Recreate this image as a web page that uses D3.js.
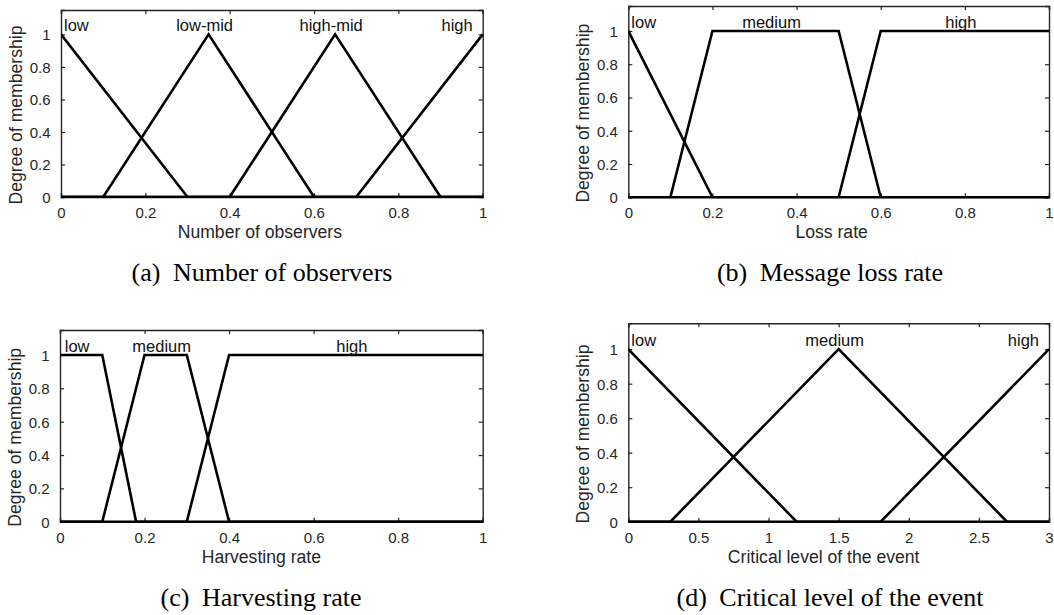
<!DOCTYPE html>
<html><head><meta charset="utf-8">
<script src="https://cdn.jsdelivr.net/npm/d3@7"></script>
<style>body{margin:0;background:#fff}</style></head>
<body><svg id="c" width="1054" height="615"></svg>
<script>
// ---- Panel (a): Number of observers ----
const aNames = ["low", "low-mid", "high-mid", "high"];
const aTypes = ["trimf", "trimf", "trimf", "trimf"];
const aParams = [[-0.3, 0, 0.3], [0.1, 0.35, 0.6], [0.4, 0.65, 0.9], [0.7, 1, 1.3]];
const aXTicks = [0, 0.2, 0.4, 0.6, 0.8, 1];
const aXLabel = "Number of observers";
const aCaption = ["(a)", "Number of observers"];

// ---- Panel (b): Message loss rate ----
const bNames = ["low", "medium", "high"];
const bTypes = ["trimf", "trapmf", "trapmf"];
const bParams = [[-0.2, 0, 0.2], [0.1, 0.2, 0.5, 0.6], [0.5, 0.6, 1, 1.4]];
const bXTicks = [0, 0.2, 0.4, 0.6, 0.8, 1];
const bXLabel = "Loss rate";
const bCaption = ["(b)", "Message loss rate"];

// ---- Panel (c): Harvesting rate ----
const cNames = ["low", "medium", "high"];
const cTypes = ["trapmf", "trapmf", "trapmf"];
const cParams = [[-0.4, 0, 0.1, 0.18], [0.1, 0.2, 0.3, 0.4], [0.3, 0.4, 1, 1.4]];
const cXTicks = [0, 0.2, 0.4, 0.6, 0.8, 1];
const cXLabel = "Harvesting rate";
const cCaption = ["(c)", "Harvesting rate"];

// ---- Panel (d): Critical level of the event ----
const dNames = ["low", "medium", "high"];
const dTypes = ["trimf", "trimf", "trimf"];
const dParams = [[-1.2, 0, 1.2], [0.3, 1.5, 2.7], [1.8, 3, 4.2]];
const dXTicks = [0, 0.5, 1, 1.5, 2, 2.5, 3];
const dXLabel = "Critical level of the event";
const dCaption = ["(d)", "Critical level of the event"];

const yTicks = [0, 0.2, 0.4, 0.6, 0.8, 1];
const yLabel = "Degree of membership";

const svg = d3.select("#c");
const SANS = "Liberation Sans, Arial, Helvetica, sans-serif";
const SERIF = "Liberation Serif, Times New Roman, serif";
const AX = "#262626";

function mu(type, p, x) {
  if (type === "trimf") {
    const [a, b, c] = p;
    const l = b === a ? (x >= a ? 1 : 0) : (x - a) / (b - a);
    const r = c === b ? (x <= c ? 1 : 0) : (c - x) / (c - b);
    return Math.max(Math.min(l, r), 0);
  } else {
    const [a, b, c, d] = p;
    const l = b === a ? (x >= a ? 1 : 0) : (x - a) / (b - a);
    const r = d === c ? (x <= d ? 1 : 0) : (d - x) / (d - c);
    return Math.max(Math.min(l, 1, r), 0);
  }
}
function peakCenter(type, p) {
  return type === "trimf" ? p[1] : (p[1] + p[2]) / 2;
}

function panel(cfg) {
  const {box, xDomain, names, types, params, xTicks, xLabel, xLabelShift, caption, capX, capY} = cfg;
  const x = d3.scaleLinear().domain(xDomain).range([box.left, box.right]);
  const y = d3.scaleLinear().domain([0, 1.15]).range([box.bottom, box.top]);
  const g = svg.append("g");
  const id = "clip" + Math.round(box.left) + "_" + Math.round(box.top);
  svg.append("clipPath").attr("id", id).append("rect")
    .attr("x", box.left).attr("y", box.top - 2)
    .attr("width", box.right - box.left + 2).attr("height", box.bottom - box.top + 3);

  // axes (ticks inside on all four sides)
  const tl = 4;
  const bottomAx = d3.axisBottom(x).tickValues(xTicks).tickSize(-tl).tickFormat(d3.format("~g"));
  const topAx = d3.axisTop(x).tickValues(xTicks).tickSize(-tl).tickFormat("");
  const leftAx = d3.axisLeft(y).tickValues(yTicks).tickSize(-tl).tickFormat(d3.format("~g"));
  const rightAx = d3.axisRight(y).tickValues(yTicks).tickSize(-tl).tickFormat("");
  const gb = g.append("g").attr("transform", `translate(0,${box.bottom})`).call(bottomAx);
  const gt = g.append("g").attr("transform", `translate(0,${box.top})`).call(topAx);
  const gl = g.append("g").attr("transform", `translate(${box.left},0)`).call(leftAx);
  const gr = g.append("g").attr("transform", `translate(${box.right},0)`).call(rightAx);
  [gb, gt, gl, gr].forEach(a => {
    a.select(".domain").attr("stroke", AX).attr("stroke-width", 1.4);
    a.selectAll(".tick line").attr("stroke", AX).attr("stroke-width", 1.2);
    a.selectAll(".tick text").attr("fill", "#262626").style("font-family", SANS).style("font-size", "15px");
  });
  gb.selectAll(".tick text").attr("y", 0).attr("dy", "21px");
  gl.selectAll(".tick text").attr("x", -10.5).attr("dy", "0.36em");

  // membership functions
  const line = d3.line().x(d => x(d[0])).y(d => y(d[1]));
  const mfG = g.append("g").attr("clip-path", `url(#${id})`);
  names.forEach((n, i) => {
    const p = params[i];
    let xs = [xDomain[0], xDomain[1], ...p.filter(v => v > xDomain[0] && v < xDomain[1])];
    xs = Array.from(new Set(xs)).sort((a, b) => a - b);
    const pts = xs.map(v => [v, mu(types[i], p, v)]);
    mfG.append("path").attr("d", line(pts)).attr("fill", "none")
      .attr("stroke", "#000").attr("stroke-width", 2.6).attr("stroke-linejoin", "miter");
  });
  // MF name labels
  names.forEach((n, i) => {
    const cx = x(peakCenter(types[i], params[i])) - 4;
    const t = g.append("text").text(n).attr("y", y(1) - 3)
      .style("font-family", SANS).style("font-size", "16.5px").attr("fill", "#111");
    const w = t.node().getComputedTextLength();
    let lx = cx - w / 2;
    if (lx < box.left + 3) lx = box.left + 3;
    if (lx + w > box.right - 10) lx = box.right - 10 - w;
    t.attr("x", lx);
  });

  // axis labels
  g.append("text").text(xLabel).attr("x", (box.left + box.right) / 2 + xLabelShift).attr("y", box.bottom + 41)
    .attr("text-anchor", "middle").style("font-family", SANS).style("font-size", "17.6px").attr("fill", "#262626");
  const ly = (box.top + box.bottom) / 2 + 11.5;
  g.append("text").text(yLabel).attr("transform", `translate(${box.left - 39},${ly}) rotate(-90)`)
    .attr("text-anchor", "middle").style("font-family", SANS).style("font-size", "17.6px").attr("fill", "#262626");

  // caption
  const ct = g.append("text").attr("x", capX).attr("y", capY).attr("text-anchor", "middle")
    .style("font-family", SERIF).style("font-size", "26px").attr("fill", "#000");
  ct.append("tspan").text(caption[0]);
  ct.append("tspan").attr("dx", 12.5).text(caption[1]);
}

panel({box: {left: 61, right: 482.7, top: 10, bottom: 197}, xDomain: [0, 1],
  names: aNames, types: aTypes, params: aParams, xTicks: aXTicks, xLabel: aXLabel, xLabelShift: -12,
  caption: aCaption, capX: 262, capY: 281});
panel({box: {left: 628.3, right: 1049, top: 6, bottom: 197.3}, xDomain: [0, 1],
  names: bNames, types: bTypes, params: bParams, xTicks: bXTicks, xLabel: bXLabel, xLabelShift: -7,
  caption: bCaption, capX: 830, capY: 281});
panel({box: {left: 60, right: 482.7, top: 330, bottom: 521.7}, xDomain: [0, 1],
  names: cNames, types: cTypes, params: cParams, xTicks: cXTicks, xLabel: cXLabel, xLabelShift: -10,
  caption: cCaption, capX: 261, capY: 606});
panel({box: {left: 628.3, right: 1049, top: 323.3, bottom: 521.7}, xDomain: [0, 3],
  names: dNames, types: dTypes, params: dParams, xTicks: dXTicks, xLabel: dXLabel, xLabelShift: -15,
  caption: dCaption, capX: 830, capY: 606});
</script>
</body></html>
